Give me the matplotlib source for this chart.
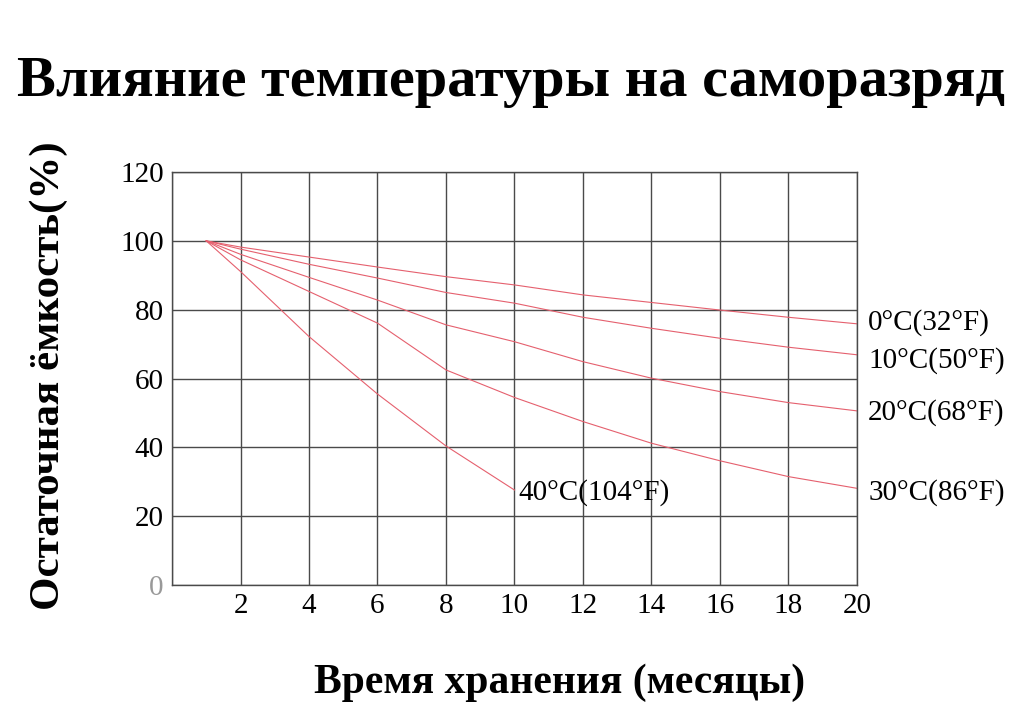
import matplotlib.pyplot as plt

months = [1, 2, 4, 6, 8, 10, 12, 14, 16, 18, 20]
cap_0c = [100, 98.2, 95.3, 92.4, 89.6, 87.2, 84.3, 82.1, 79.9, 77.8, 75.9]
cap_10c = [100, 97.6, 93.2, 89.2, 85.0, 81.9, 77.8, 74.6, 71.7, 69.1, 66.9]
cap_20c = [100, 96.1, 89.4, 82.8, 75.6, 70.7, 64.9, 60.1, 56.2, 53.0, 50.6]
cap_30c = [100, 94.5, 85.3, 76.1, 62.5, 54.5, 47.5, 41.2, 36.1, 31.5, 28.1]
months_40c = [1, 2, 4, 6, 8, 10]
cap_40c = [100, 91.1, 72.2, 55.5, 40.4, 27.6]

labels = ["0°C(32°F)", "10°C(50°F)", "20°C(68°F)", "30°C(86°F)"]
x_ticks = [2, 4, 6, 8, 10, 12, 14, 16, 18, 20]
y_ticks = [0, 20, 40, 60, 80, 100, 120]

plt.rcParams["font.family"] = ["Liberation Serif", "DejaVu Serif"]

fig = plt.figure(figsize=(10.30, 7.08), dpi=100)
ax = fig.add_axes([0.167, 0.1737, 0.665, 0.5833])

red = "#e5606e"
for ys in [cap_0c, cap_10c, cap_20c, cap_30c]:
    ax.plot(months, ys, color=red, lw=0.8)
ax.plot(months_40c, cap_40c, color=red, lw=0.8)

ax.set_xlim(0, 20)
ax.set_ylim(0, 120)
ax.set_xticks(range(0, 21, 2))
ax.set_xticklabels([""] + [str(t) for t in x_ticks])
ax.set_yticks(y_ticks)
ax.set_yticklabels([str(t) for t in y_ticks])
ax.tick_params(length=0, labelsize=21, pad=6)
ax.get_yticklabels()[0].set_color("#999999")
ax.grid(True, color="#4a4a4a", lw=1)
for s in ax.spines.values():
    s.set_color("#4a4a4a")
    s.set_linewidth(1)

# curve labels at the right edge
offsets = [1, -4, -1, -3]
for ys, lab, dy in zip([cap_0c, cap_10c, cap_20c, cap_30c], labels, offsets):
    ax.annotate(lab, (months[-1], ys[-1]), xytext=(8, dy), textcoords="offset points",
                fontsize=21, va="center", ha="left", annotation_clip=False)
ax.annotate("40°C(104°F)", (months_40c[-1], cap_40c[-1]), xytext=(3, -2),
            textcoords="offset points", fontsize=21, va="center", ha="left")

fig.text(0.496, 0.884, "Влияние температуры на саморазряд", fontsize=42,
         fontweight="bold", ha="center", va="center")
fig.text(0.047, 0.47, "Остаточная ёмкость(%)", fontsize=31, fontweight="bold",
         rotation=90, ha="center", va="center")
fig.text(0.543, 0.035, "Время хранения (месяцы)", fontsize=30, fontweight="bold",
         ha="center", va="center")

fig.savefig("out.png", dpi=100)
